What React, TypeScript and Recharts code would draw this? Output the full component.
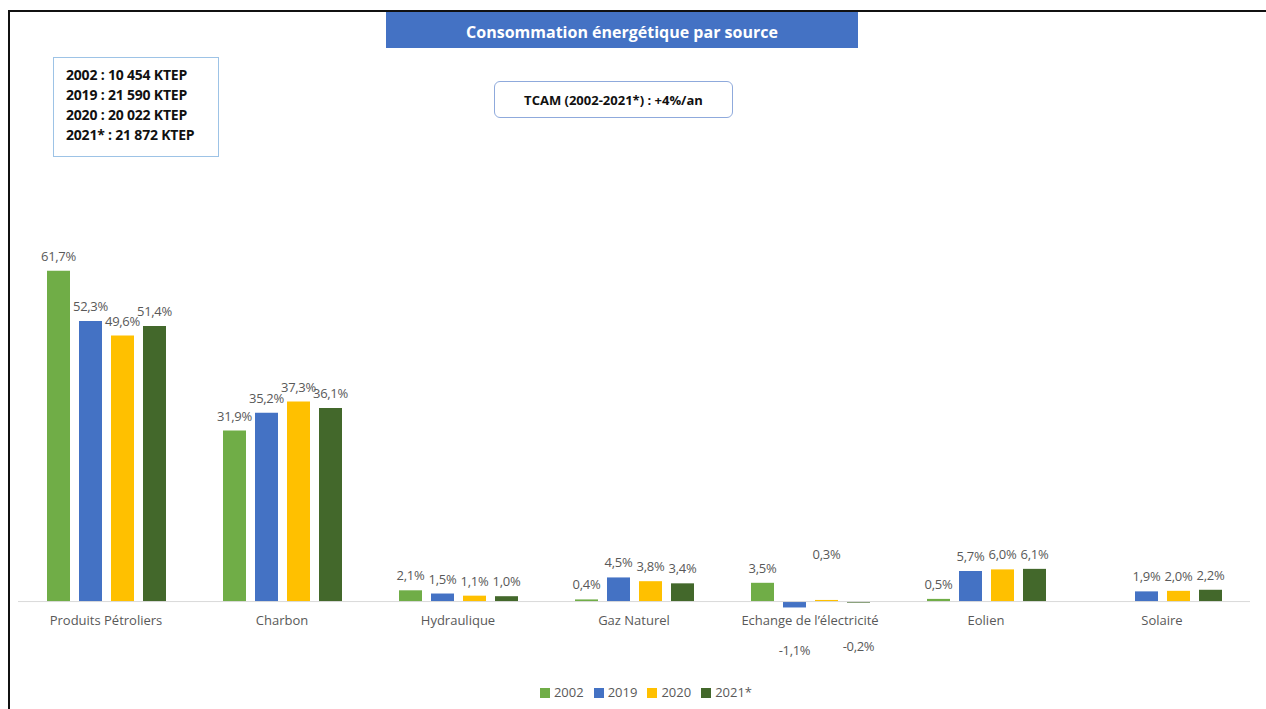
import { Bar, BarChart, LabelList, Legend, ReferenceLine, XAxis, YAxis } from "recharts";

const categories = [
  "Produits Pétroliers",
  "Charbon",
  "Hydraulique",
  "Gaz Naturel",
  "Echange de l’électricité",
  "Eolien",
  "Solaire",
];

const values2002 = [61.7, 31.9, 2.1, 0.4, 3.5, 0.5, null];
const values2019 = [52.3, 35.2, 1.5, 4.5, -1.1, 5.7, 1.9];
const values2020 = [49.6, 37.3, 1.1, 3.8, 0.3, 6.0, 2.0];
const values2021 = [51.4, 36.1, 1.0, 3.4, -0.2, 6.1, 2.2];

const totals = [
  "2002 : 10 454 KTEP",
  "2019 : 21 590 KTEP",
  "2020 : 20 022 KTEP",
  "2021* : 21 872 KTEP",
];

const series = [
  { key: "y2002", name: "2002", color: "#70AD47" },
  { key: "y2019", name: "2019", color: "#4472C4" },
  { key: "y2020", name: "2020", color: "#FFC000" },
  { key: "y2021", name: "2021*", color: "#43682B" },
];

const data = categories.map((name, i) => ({
  name,
  y2002: values2002[i],
  y2019: values2019[i],
  y2020: values2020[i],
  y2021: values2021[i],
}));

// the 0,3% label in the source was dragged up by hand
const labelLift: Record<string, number> = { "y2020|4": 31 };

const FONT = "'Open Sans', Lato, sans-serif";
const GREY = "#595959";

const fmt = (v: number) => `${v.toFixed(1).replace(".", ",")}%`;

const makeLabel = (key: string) => (props: any) => {
  const { x, y, width, height, value, index } = props;
  if (value === null || value === undefined) return null;
  const cx = Number(x) + Number(width) / 2;
  const top = Math.min(Number(y), Number(y) + Number(height));
  const bottom = Math.max(Number(y), Number(y) + Number(height));
  const lift = labelLift[`${key}|${index}`] || 0;
  const ty = value < 0 ? bottom + 48 : top - 10 - lift;
  return (
    <text x={cx} y={ty} textAnchor="middle" fontSize={13} fill={GREY} fontFamily={FONT} letterSpacing={-0.3}>
      {fmt(value)}
    </text>
  );
};

export default function App() {
  return (
    <div style={{ position: "absolute", left: 0, top: 0, width: 1266, height: 709, background: "#fff", fontFamily: FONT, overflow: "hidden" }}>
      {/* frame */}
      <div style={{ position: "absolute", left: 8, top: 10, right: 0, height: 2, background: "#111" }} />
      <div style={{ position: "absolute", left: 8, top: 10, width: 2, bottom: 0, background: "#111" }} />

      <BarChart
        width={1266}
        height={709}
        data={data}
        margin={{ top: 253, right: 16, left: 18, bottom: 0 }}
        barSize={23}
        barGap={9}
      >
        <YAxis hide domain={[-1.2, 65]} />
        <XAxis
          dataKey="name"
          axisLine={false}
          tickLine={false}
          interval={0}
          height={72}
          tick={{ fontSize: 13, fill: GREY, fontFamily: FONT }}
        />
        <ReferenceLine y={0} stroke="#D9D9D9" strokeWidth={1} />
        <Legend
          verticalAlign="bottom"
          height={29}
          iconType="square"
          iconSize={10}
          wrapperStyle={{ paddingLeft: 17 }}
          formatter={(v: string) => (
            <span style={{ color: GREY, fontSize: 13, fontFamily: FONT }}>{v}</span>
          )}
        />
        {series.map((s) => (
          <Bar key={s.key} dataKey={s.key} name={s.name} fill={s.color} isAnimationActive={false}>
            <LabelList dataKey={s.key} content={makeLabel(s.key)} />
          </Bar>
        ))}
      </BarChart>

      {/* title band */}
      <div
        style={{
          position: "absolute",
          left: 386,
          top: 12,
          width: 472,
          height: 36,
          background: "#4472C4",
          color: "#fff",
          fontWeight: 700,
          fontSize: 16,
          display: "flex",
          alignItems: "center",
          justifyContent: "center",
          paddingTop: 3,
          boxSizing: "border-box",
        }}
      >
        Consommation énergétique par source
      </div>

      {/* totals box */}
      <div
        style={{
          position: "absolute",
          left: 53,
          top: 57,
          width: 166,
          height: 100,
          border: "1.5px solid #9DC3E6",
          boxSizing: "border-box",
          padding: "7px 0 0 12px",
          fontWeight: 700,
          fontSize: 14,
          lineHeight: "20px",
          letterSpacing: -0.2,
          color: "#111",
        }}
      >
        {totals.map((t) => (
          <div key={t}>{t}</div>
        ))}
      </div>

      {/* growth box */}
      <div
        style={{
          position: "absolute",
          left: 494,
          top: 81,
          width: 239,
          height: 37,
          border: "1.5px solid #8FAADC",
          borderRadius: 6,
          boxSizing: "border-box",
          display: "flex",
          alignItems: "center",
          justifyContent: "center",
          fontWeight: 700,
          fontSize: 13,
          color: "#111",
        }}
      >
        TCAM (2002-2021*) : +4%/an
      </div>
    </div>
  );
}
